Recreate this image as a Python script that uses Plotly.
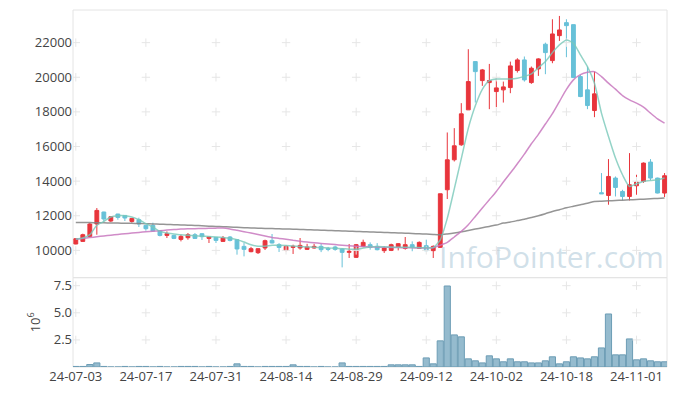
import plotly.graph_objects as go

# ---------------- data ----------------
dates = [
    "2024-07-03","2024-07-04","2024-07-05","2024-07-08","2024-07-09","2024-07-10","2024-07-11","2024-07-12",
    "2024-07-15","2024-07-16","2024-07-17","2024-07-18","2024-07-19","2024-07-22","2024-07-23","2024-07-24",
    "2024-07-25","2024-07-26","2024-07-29","2024-07-30","2024-07-31",
    "2024-08-01","2024-08-02","2024-08-05","2024-08-06","2024-08-07","2024-08-08","2024-08-09","2024-08-12",
    "2024-08-13","2024-08-14","2024-08-16","2024-08-19","2024-08-20","2024-08-21","2024-08-22","2024-08-23",
    "2024-08-26","2024-08-27","2024-08-28","2024-08-29","2024-08-30",
    "2024-09-02","2024-09-03","2024-09-04","2024-09-05","2024-09-06","2024-09-09","2024-09-10","2024-09-11",
    "2024-09-12","2024-09-13","2024-09-19","2024-09-20","2024-09-23","2024-09-24","2024-09-25","2024-09-26",
    "2024-09-27","2024-09-30",
    "2024-10-02","2024-10-04","2024-10-07","2024-10-08","2024-10-10","2024-10-11","2024-10-14","2024-10-15",
    "2024-10-16","2024-10-17","2024-10-18","2024-10-21","2024-10-22","2024-10-23","2024-10-24","2024-10-25",
    "2024-10-28","2024-10-29","2024-10-30","2024-10-31",
    "2024-11-01","2024-11-04","2024-11-05","2024-11-06","2024-11-07",
]

open_ = [10370,10520,10808,11523,12215,11696,12100,12020,11673,11771,11442,11442,11137,10865,10865,10635,
         10733,10906,10963,10692,10750,10520,10773,10617,10231,9925,9867,10138,10577,10329,10000,10173,
         10138,10058,10138,10231,10115,10196,10081,9885,9596,10231,10329,10231,9983,10000,10196,10115,
         10329,10115,10271,9983,10173,13502,15233,16099,18118,20905,19809,19693,19174,19272,19405,20388,
         21003,19693,20484,21909,20963,22405,23156,23040,20040,19272,18078,13330,13173,14177,13404,13115,
         13733,13981,15100,14177,13312]
high = [10700,10963,11580,12446,12230,11960,12110,12030,11860,11889,11450,11600,11150,11096,10900,10900,
        11004,11000,10990,10780,10760,10830,10830,10658,10427,10200,10120,10620,10946,10420,10290,10329,
        10715,10380,10380,10380,10200,10270,10140,10369,10369,10620,10462,10420,10231,10387,10420,10773,
        10520,10520,10617,10290,13271,16811,17062,18505,21620,20905,20480,20772,19947,19751,20905,21100,
        21200,20620,21100,22000,23351,23542,23351,23040,20140,20617,20327,14466,15273,14270,13500,15619,
        14368,15080,15273,14200,14466]
low = [10350,10500,10750,10906,11670,11640,11771,11696,11600,11350,11137,11100,10808,10715,10650,10520,
       10616,10660,10600,10427,10427,10500,10520,9752,9654,9890,9790,10020,10400,9908,9950,9792,
       10040,10020,10100,9900,9950,9980,9019,9561,9561,10170,10040,10000,9850,9960,10000,10040,
       9950,10080,9950,9561,10173,12966,15135,16040,18118,18539,19503,18158,18274,18539,19081,20270,
       19750,19620,20080,20178,20812,22099,21159,19982,18850,18158,17696,13271,12637,13115,12900,12885,
       13214,13900,14050,13290,13081]
close = [10675,10906,11523,12308,11812,11944,11904,11870,11846,11523,11252,11119,10865,10963,10692,10808,
         10906,10692,10790,10773,10577,10715,10577,10081,10058,10098,10098,10560,10427,10173,10231,10231,
         10288,10196,10231,10040,10058,10058,9885,9942,10329,10462,10173,10040,10138,10329,10387,10329,
         10173,10462,9983,10231,13271,15233,16041,17888,19751,20327,20426,19809,19387,19445,20657,21003,
         19849,20523,21061,21425,22503,22734,22982,19982,18886,18366,19041,13271,14270,13635,13115,13790,
         13946,15042,14177,13312,14312]

# volume in millions of shares
volume = [0.05,0.05,0.23,0.38,0.05,0.0,0.0,0.05,0.0,0.05,0.05,0.0,0.05,0.0,0.0,0.05,
          0.05,0.05,0.0,0.05,0.0,0.0,0.05,0.29,0.05,0.05,0.0,0.05,0.05,0.05,0.05,0.2,
          0.05,0.05,0.0,0.05,0.0,0.0,0.38,0.05,0.05,0.05,0.05,0.05,0.05,0.2,0.2,0.2,
          0.2,0.05,0.84,0.29,2.41,7.47,2.96,2.78,0.75,0.57,0.38,1.03,0.75,0.48,0.75,0.48,
          0.48,0.38,0.38,0.57,0.94,0.29,0.48,0.94,0.84,0.75,0.94,1.76,4.89,1.12,1.12,2.59,
          0.66,0.75,0.57,0.48,0.48]

ma5 = [10658,10715,10906,11450,11673,11927,12002,12002,11927,11771,11541,11350,11096,11000,10950,10900,
       10870,10850,10820,10800,10780,10750,10700,10620,10480,10330,10240,10240,10300,10300,10280,10250,
       10220,10200,10180,10160,10140,10120,10100,10070,10060,10130,10200,10230,10210,10190,10180,10180,
       10170,10160,10150,10160,10600,11850,13550,15300,17050,18350,19300,19800,19900,19900,19900,19950,
       20050,20200,20550,20905,21424,21869,22157,21967,21292,20617,19659,17928,16580,15331,14368,13693,
       13848,13981,14039,14079,14177]
ma20 = [10640,10690,10740,10790,10835,10880,10920,10960,11000,11040,11080,11110,11140,11170,11200,11230,
        11245,11255,11265,11275,11285,11290,11240,11160,11080,11000,10920,10830,10745,10690,10640,10580,
        10530,10480,10440,10400,10370,10335,10300,10270,10240,10220,10200,10190,10180,10170,10160,10150,
        10145,10140,10140,10160,10300,10462,10773,11096,11483,11962,12446,12925,13404,13946,14466,15003,
        15562,16157,16700,17300,17900,18600,19300,19850,20150,20290,20327,20040,19660,19312,18943,18695,
        18505,18274,17928,17599,17351]
ma60 = [11615,11610,11605,11598,11590,11583,11575,11568,11560,11550,11541,11530,11515,11500,11485,11470,
        11455,11440,11420,11400,11385,11370,11350,11330,11310,11292,11280,11270,11258,11246,11235,11222,
        11210,11195,11180,11166,11152,11138,11124,11110,11096,11080,11065,11050,11035,11020,11005,10990,
        10975,10960,10940,10920,10906,10950,11004,11070,11150,11230,11310,11385,11460,11577,11640,11720,
        11800,11900,12002,12120,12250,12350,12460,12550,12640,12720,12827,12845,12860,12880,12900,12920,
        12940,12960,12983,13000,13023]

price_ticks = [10000, 12000, 14000, 16000, 18000, 20000, 22000]
volume_ticks = [2.5, 5.0, 7.5]
tick_every = 10
tick_dates = dates[::tick_every]
tick_labels = [d[2:] for d in tick_dates]

# ---------------- figure ----------------
RED = "#e8353c"
BLUE = "#67c1d8"
GRID = "#e6e6e6"
FRAME = "#e4e4e4"
FONT = "Open Sans"

fig = go.Figure()

# grid crosses
for yt, ya in ((price_ticks, "y"), (volume_ticks, "y2")):
    gx, gy = [], []
    for d in tick_dates:
        for v in yt:
            gx.append(d)
            gy.append(v)
    fig.add_trace(go.Scatter(x=gx, y=gy, mode="markers", xaxis="x", yaxis=ya,
                             marker=dict(symbol="cross-thin", size=6,
                                         line=dict(color=GRID, width=1)),
                             hoverinfo="skip", showlegend=False))

fig.add_trace(go.Bar(x=dates, y=volume, xaxis="x", yaxis="y2",
                     marker=dict(color="rgba(130,175,198,0.85)",
                                 line=dict(color="#6d9db5", width=1)),
                     showlegend=False))

fig.add_trace(go.Candlestick(x=dates, open=open_, high=high, low=low, close=close,
                             xaxis="x", yaxis="y",
                             increasing=dict(line=dict(color=RED, width=1), fillcolor=RED),
                             decreasing=dict(line=dict(color=BLUE, width=1), fillcolor=BLUE),
                             whiskerwidth=0, showlegend=False))

for vals, col in ((ma60, "rgba(130,130,130,0.85)"),
                  (ma20, "rgba(200,120,190,0.85)"),
                  (ma5, "rgba(120,200,185,0.8)")):
    fig.add_trace(go.Scatter(x=dates, y=vals, mode="lines", xaxis="x", yaxis="y",
                             line=dict(color=col, width=1.5, shape="spline", smoothing=0.6),
                             hoverinfo="skip", showlegend=False))

# the page body adds an 8px offset; size the figure so the plot lands where the reference has it
split = 0.2503
fig.update_layout(
    width=669, height=388,
    margin=dict(l=65, r=10, t=2, b=28.5, autoexpand=False),
    paper_bgcolor="white", plot_bgcolor="white",
    font=dict(family=FONT, size=13, color="#444"),
    bargap=0.12,
    boxgap=0.22,
    xaxis=dict(type="category", categoryorder="array", categoryarray=dates,
               range=[-0.4, 84.35], anchor="y2", automargin=False,
               tickmode="array", tickvals=tick_dates, ticktext=tick_labels,
               showgrid=False, zeroline=False, showline=False, ticks="",
               rangeslider=dict(visible=False), tickfont=dict(size=13, color="#444")),
    yaxis=dict(domain=[split, 1], range=[8425, 23886], automargin=False,
               tickmode="array", tickvals=price_ticks, ticktext=[str(v) for v in price_ticks],
               showgrid=False, zeroline=False, ticks="", tickfont=dict(size=13, color="#444")),
    yaxis2=dict(domain=[0, split], range=[0, 8.24], automargin=False,
                tickmode="array", tickvals=volume_ticks, ticktext=["2.5", "5.0", "7.5"],
                showgrid=False, zeroline=False, ticks="", tickfont=dict(size=13, color="#444"),
                title=dict(text="10<sup>6</sup>", font=dict(size=13, color="#444"), standoff=10)),
    shapes=[
        dict(type="rect", xref="paper", yref="paper", x0=0, x1=1, y0=split, y1=1,
             line=dict(color=FRAME, width=1), layer="below"),
        dict(type="rect", xref="paper", yref="paper", x0=0, x1=1, y0=0, y1=split,
             line=dict(color=FRAME, width=1), layer="below"),
    ],
    annotations=[
        dict(text="InfoPointer.com", xref="paper", yref="paper", x=0.805, y=0.309,
             xanchor="center", yanchor="middle", showarrow=False,
             font=dict(family=FONT, size=30, color="rgba(170,198,214,0.55)")),
    ],
)

fig.write_html("out.html")
